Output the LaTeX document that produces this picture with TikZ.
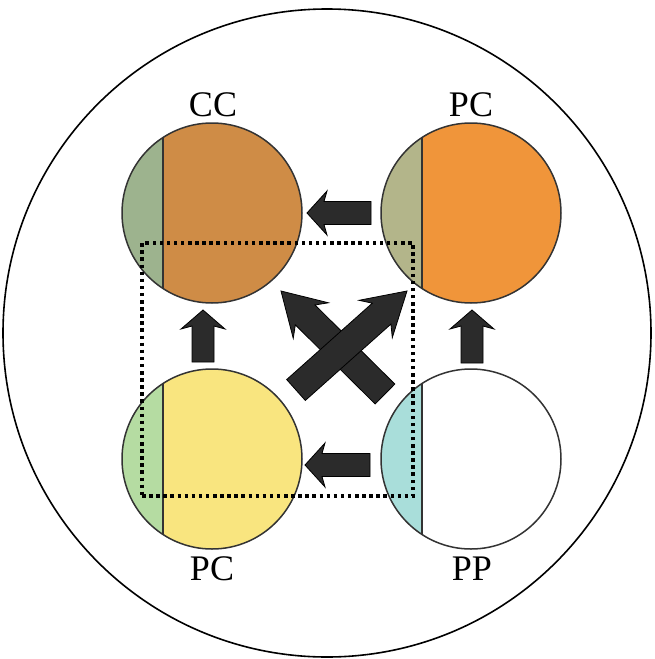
\documentclass[tikz,border=0pt]{standalone}
\usepackage{fontspec}
\setmainfont{Liberation Serif}
\usetikzlibrary{calc}
\definecolor{ccmain}{HTML}{CF8C46}
\definecolor{ccseg}{HTML}{9DB38E}
\definecolor{pcmain}{HTML}{F0953A}
\definecolor{pcseg}{HTML}{B3B58A}
\definecolor{pcbmain}{HTML}{F9E57F}
\definecolor{pcbseg}{HTML}{B5DCA2}
\definecolor{ppseg}{HTML}{A9DEDA}
\definecolor{arrowfill}{HTML}{2B2B2B}
\definecolor{rimcol}{HTML}{333333}
% block arrow: #1 tail coord, #2 tip coord, #3 half shaft, #4 half head, #5 head length, #6 barb sweep
\newcommand{\blockarrow}[6]{%
  \draw[blockstyle]
    ($(#1)!#3!90:(#2)$) --
    ($($(#2)!#5!(#1)$)!#3!90:(#2)$) --
    ($($(#2)!#5+#6!(#1)$)!#4!90:(#2)$) --
    (#2) --
    ($($(#2)!#5+#6!(#1)$)!#4!-90:(#2)$) --
    ($($(#2)!#5!(#1)$)!#3!-90:(#2)$) --
    ($(#1)!#3!-90:(#2)$) -- cycle;}
\begin{document}
\begin{tikzpicture}[x=1pt,y=-1pt,
  blockstyle/.style={fill=arrowfill,draw=black,line width=0.8pt,line join=miter},
  cell/.style 2 args={circle,minimum size=180pt,inner sep=0pt,outer sep=0pt,
    fill=#1,draw=rimcol,line width=1.5pt,
    path picture={\fill[#2] (path picture bounding box.south west) rectangle ([xshift=41pt]path picture bounding box.north west);
      \draw[rimcol,line width=1.3pt] ([xshift=41pt]path picture bounding box.south west) -- ([xshift=41pt]path picture bounding box.north west);}},
  lbl/.style={font=\fontsize{36}{40}\selectfont,anchor=base,inner sep=0pt},
  dotbox/.style={line width=3.5pt,dash pattern=on 3.5pt off 3.6pt,draw=black}]
\useasboundingbox (0,0) rectangle (654,659);
\fill[white] (0,0) rectangle (654,659);
\node[circle,draw=black,line width=1.6pt,minimum size=648pt,inner sep=0pt] (outer) at (327,333) {};
% cells
\node[cell={ccmain}{ccseg}] (cc) at (212,213) {};
\node[cell={pcmain}{pcseg}] (pctop) at (471,213) {};
\node[cell={pcbmain}{pcbseg}] (pcbot) at (212,459) {};
\node[cell={white}{ppseg}] (pp) at (471,459) {};
% labels
\node[lbl] (lcc) at (213,116) {CC};
\node[lbl] (lpctop) at (471,116) {PC};
\node[lbl] (lpcbot) at (212,580) {PC};
\node[lbl] (lpp) at (472,580) {PP};
% arrow end points
\coordinate (a1t) at (371,213); \coordinate (a1h) at (307,213);
\coordinate (a2t) at (370,465); \coordinate (a2h) at (305,465);
\coordinate (a3t) at (203,362); \coordinate (a3h) at (203,310);
\coordinate (a4t) at (472,363); \coordinate (a4h) at (472,310);
\coordinate (x1t) at (385,394); \coordinate (x1h) at (281,291);
\coordinate (x2t) at (296,390); \coordinate (x2h) at (407,291);
\blockarrow{a1t}{a1h}{11.5pt}{22pt}{17pt}{3pt}
\blockarrow{a2t}{a2h}{11.5pt}{22pt}{17pt}{3pt}
\blockarrow{a3t}{a3h}{11pt}{22pt}{16pt}{3pt}
\blockarrow{a4t}{a4h}{11pt}{22pt}{16pt}{3pt}
\blockarrow{x1t}{x1h}{14pt}{25pt}{34pt}{8pt}
\blockarrow{x2t}{x2h}{14pt}{25pt}{34pt}{8pt}
% dotted frame
\node[dotbox,rectangle,inner sep=0pt,minimum width=271pt,minimum height=253pt] (frame) at (277.5,369.5) {};
\end{tikzpicture}
\end{document}
